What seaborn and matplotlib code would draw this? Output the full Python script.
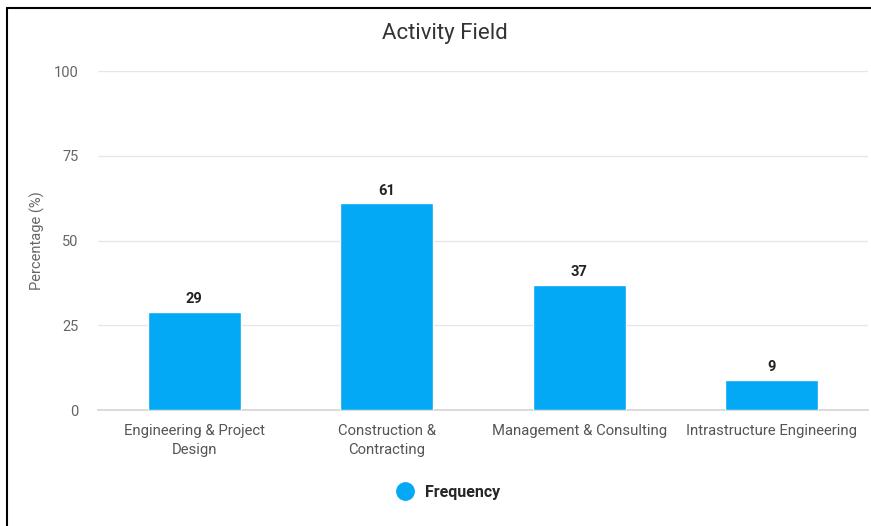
import matplotlib
matplotlib.use("Agg")
import matplotlib.pyplot as plt
import seaborn as sns
import pandas as pd
from matplotlib.lines import Line2D

categories = ["Engineering & Project\nDesign", "Construction &\nContracting",
              "Management & Consulting", "Intrastructure Engineering"]
values = [29, 61, 37, 9]
yticks = [0, 25, 50, 75, 100]
series_name = "Frequency"

df = pd.DataFrame({"category": categories, "value": values})

sns.set_theme(style="white")
plt.rcParams['font.family'] = ['Roboto', 'DejaVu Sans']

color = "#03A9F4"
fig = plt.figure(figsize=(8.71, 5.26), dpi=100)
ax = fig.add_axes([0.1125, 0.2205, 0.884, 0.6445])

sns.barplot(data=df, x="category", y="value", color=color, width=0.485,
            saturation=1, ax=ax, zorder=3)

ax.set_ylim(0, 100)
ax.set_xlim(-0.5, 3.5)
ax.set_yticks(yticks)
ax.set_yticklabels([str(t) for t in yticks], color="#666666", fontsize=10.5)
ax.tick_params(axis="x", labelsize=10.7, labelcolor="#555555", length=0, pad=10)
for lbl in ax.get_xticklabels():
    lbl.set_linespacing(1.45)
ax.tick_params(axis="y", length=0, pad=14)
ax.grid(axis="y", color="#e6e6e6", linewidth=1, zorder=0)
for s in ["top", "right", "left"]:
    ax.spines[s].set_visible(False)
ax.spines["bottom"].set_color("#d6d6d6")
ax.set_xlabel("")
ax.set_ylabel("Percentage (%)", color="#666666", fontsize=10.5, labelpad=6)

for c in ax.containers:
    ax.bar_label(c, labels=[str(v) for v in values], padding=4,
                 fontsize=10.5, fontweight="bold", color="#222222")

fig.text(0.511, 0.936, "Activity Field", ha="center", va="center",
         fontsize=16, color="#333333")

handle = Line2D([], [], marker="o", linestyle="", markersize=12.5,
                markerfacecolor=color, markeredgecolor=color)
fig.legend([handle], [series_name], loc="center", bbox_to_anchor=(0.51, 0.064),
           frameon=False, prop={"weight": "bold", "size": 11.5},
           handletextpad=0.25)

# screenshot frame lines
fig.add_artist(Line2D([0.008, 0.008], [0.0, 0.985], transform=fig.transFigure,
                      color="black", linewidth=1.5))
fig.add_artist(Line2D([0.008, 1.0], [0.985, 0.985], transform=fig.transFigure,
                      color="black", linewidth=1.5))

fig.savefig("out.png", dpi=100, facecolor="white")
